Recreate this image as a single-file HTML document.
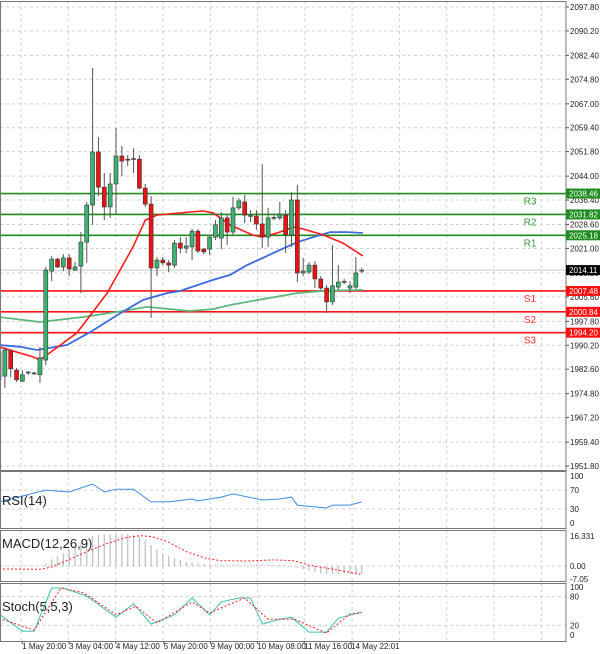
<!DOCTYPE html>
<html><head><meta charset="utf-8"><style>
html,body{margin:0;padding:0;background:#fff;}
svg{display:block;font-family:"Liberation Sans",sans-serif;}
</style></head><body>
<svg id="chart" width="600" height="654" viewBox="0 0 600 654" xmlns="http://www.w3.org/2000/svg">
<g id="grid"></g>
<g id="main"></g>
<g id="ind"></g>
<g id="axes"></g>
</svg>
<script>
const opens=[1979.2,1980.4,1988.4,1982.3,1978.8,1981.4,1981.1,1980.8,1985.5,2013.8,2017.6,2015.1,2018.0,2014.1,2015.4,2023.0,2034.8,2051.7,2040.5,2034.2,2041.5,2050.4,2049.4,2049.4,2049.4,2040.2,2035.1,2014.8,2017.3,2016.4,2015.7,2022.7,2021.1,2021.5,2026.5,2020.8,2020.8,2024.6,2024.3,2030.7,2026.2,2033.9,2035.8,2031.3,2031.3,2028.8,2024.6,2030.7,2030.7,2031.6,2025.3,2036.4,2013.2,2013.5,2015.7,2011.3,2008.4,2004.0,2008.7,2010.3,2008.4,2008.7,2013.8];
const closes=[1988.1,1988.7,1982.7,1979.2,1980.8,1981.7,1981.4,1986.2,2014.1,2017.6,2015.1,2018.0,2014.5,2015.1,2023.0,2034.8,2051.7,2040.5,2034.2,2041.5,2050.4,2048.8,2049.3,2049.6,2040.2,2035.1,2014.8,2017.3,2016.4,2015.7,2022.7,2021.1,2021.8,2026.5,2020.2,2019.9,2024.6,2028.5,2030.7,2026.2,2033.9,2036.1,2031.6,2031.5,2028.8,2024.6,2030.7,2030.9,2031.9,2025.3,2036.4,2013.2,2013.8,2015.7,2011.3,2008.4,2004.0,2009.1,2010.3,2010.5,2009.1,2013.2,2014.1];
const highs=[1990.3,1989.3,1988.7,1983.0,1982.3,1982.0,1981.7,1989.7,2015.1,2018.6,2018.0,2019.2,2019.2,2016.7,2026.2,2035.8,2078.4,2056.4,2045.0,2045.0,2059.3,2053.6,2050.7,2052.9,2050.7,2041.5,2037.7,2018.3,2018.3,2017.3,2023.7,2024.6,2024.6,2027.2,2027.2,2021.1,2025.3,2030.0,2032.6,2031.9,2037.4,2037.0,2038.0,2033.2,2033.2,2047.8,2033.9,2031.6,2035.8,2033.2,2038.9,2041.2,2018.0,2016.7,2017.0,2012.2,2009.4,2022.1,2015.7,2011.3,2010.6,2018.3,2014.8];
const lows=[1976.6,1976.6,1980.1,1978.5,1978.5,1980.8,1980.8,1978.2,1983.9,2010.6,2014.8,2013.8,2012.2,2013.8,2006.8,2016.4,2028.5,2037.7,2030.0,2030.7,2031.9,2044.0,2047.2,2045.0,2039.9,2034.2,1998.9,2012.2,2015.7,2013.5,2014.8,2019.5,2019.5,2017.3,2019.5,2019.2,2018.9,2023.7,2020.8,2022.1,2025.3,2033.2,2029.1,2029.4,2026.9,2021.1,2021.5,2030.0,2030.0,2019.5,2021.5,2010.3,2012.2,2012.9,2008.4,2007.8,2000.5,2003.0,2007.8,2009.7,2006.8,2008.1,2013.2];
const redMaIdx=[0,5.8,7,13.3,18.5,22.9,25,27,32.6,34.9,36.6,39.5,43.3,45,48,50.3,52,55.4,58.8,62.2];
const redMaVals=[1989.7,1986.5,1985.5,1994.1,2006.8,2021.5,2030.0,2031.6,2032.6,2032.9,2032.3,2028.5,2025.3,2024.6,2026.2,2027.8,2027.2,2025.3,2022.7,2018.6];
const blueMaIdx=[0,3.6,6.5,11.6,15.6,20.2,24.6,28.7,31,36.6,39.5,42.4,45.1,48,51,53.7,56.6,59.5,62.2];
const blueMaVals=[1990.3,1989.7,1988.7,1990.3,1994.4,1999.8,2004.6,2006.8,2007.5,2011.0,2012.6,2015.7,2018.0,2020.5,2023.0,2024.6,2026.2,2026.2,2025.9];
const greenMaIdx=[0,7,14.4,20.2,25.3,32.6,36.6,39.5,45.1,51,55.4,62.2];
const greenMaVals=[1999.2,1997.6,1999.2,2000.8,2002.4,2001.1,2001.7,2003.0,2004.9,2006.8,2007.5,2007.8];
const pivotNames=["R3","R2","R1","S1","S2","S3"];
const pivotVals=[2038.46,2031.82,2025.18,2007.48,2000.84,1994.20];
const lastPrice=2014.11;
const priceTicks=[2097.80,2090.20,2082.40,2074.80,2067.00,2059.40,2051.80,2044.00,2036.40,2028.60,2021.00,2013.20,2005.60,1997.80,1990.20,1982.60,1974.80,1967.20,1959.40,1951.80];
const timeLabels=["6:00","1 May 20:00","3 May 04:00","4 May 12:00","5 May 20:00","9 May 00:00","10 May 08:00","11 May 16:00","14 May 22:01"];
const timeIdx=[-3.8,3.8,11.8,19.8,28,36,44,52,60];
const rsiIdx=[0,8,12,16,18,20,23,26,29,33,34,38,40,45,48,50,51,56,57,60,62];
const rsiVals=[45,70,66,83,66,72,72,45,45,51,47,55,62,49,51,55,38,32,38,38,45];
const macdHist=[0.3,0.3,0.3,0.3,0.3,0.3,0.3,0.3,1.4,3.6,5.1,6.9,8.7,10.5,12.7,14.7,16.3,16.8,17.0,17.2,17.4,17.4,17.2,16.8,15.9,14.1,11.4,9.1,6.9,5.4,4.3,3.3,2.5,1.8,1.4,1.1,0.9,0.8,0.8,0.8,0.8,0.8,0.8,0.8,0.8,0.8,0.8,0.8,0.8,0.6,0.3,-1.0,-1.8,-2.5,-3.3,-4.0,-4.3,-4.3,-4.3,-4.2,-4.3,-4.3,-4.3];
const macdSigIdx=[0,7.2,9.2,11.8,15,18.3,21.6,24.2,26.2,28.8,32,35.3,37.9,42.5,47,50.4,53,56.2,59.5,61.8];
const macdSigVals=[-1.6,-1.8,-0.4,3.3,7.8,12,15.4,16.5,15.9,13.2,7.8,4.2,2.9,2.7,3.3,2.9,0.5,-1.3,-3.1,-4.5];
const stochIdx=[0,4,6,9,11,15,20,23,26,30,33,36,38,41,43,45,48,50,53,56,58,62];
const stochVals=[44,8,8,98,98,81,37,65,23,42,77,42,69,77,77,23,33,37,6,6,35,48];
const stochSigIdx=[0,6,10.6,14.5,20,23.4,27,33,36,42,46,50.5,56,60,62];
const stochSigVals=[35,10,98,88,42,60,25,69,46,77,33,33,4,44,46];

const NS="http://www.w3.org/2000/svg";
function mk(tag,attrs,parent){const e=document.createElementNS(NS,tag);for(const k in attrs)e.setAttribute(k,attrs[k]);parent.appendChild(e);return e;}
const xOf=i=>-1+i*5.85;
const yP=p=>7+(2097.8-p)*3.1438;
const yRsi=v=>523-v*0.47;
const yMacd=v=>566-v*1.84;
const ySt=v=>635-v*0.48;
const grid=document.getElementById('grid'),main=document.getElementById('main'),ind=document.getElementById('ind'),axes=document.getElementById('axes');
const PR=566;

// panel frames
const panels=[[0,1,470],[0,471,528],[0,530,581],[0,583,641]];
const pnames=['price-frame','rsi-frame','macd-frame','stoch-frame'];
panels.forEach((p,k)=>{const r=mk('rect',{x:0.5,y:p[1]+0.5,width:PR-0.5,height:p[2]-p[1],fill:'none',stroke:'#777','stroke-width':1},axes);
});
// vertical grid
for(let x=21;x<PR;x+=47.3){[[1,470],[471,528],[530,581],[583,641]].forEach(s=>{const l=mk('line',{x1:x,x2:x,y1:s[0],y2:s[1],stroke:'#d0d0d0','stroke-dasharray':'3,3'},grid);
});}
// price ticks
priceTicks.forEach(t=>{const y=yP(t);const l=mk('line',{x1:0,x2:PR,y1:y,y2:y,stroke:'#d0d0d0','stroke-dasharray':'3,3'},grid);

const tx=mk('text',{x:570,y:y+3,'font-size':8,fill:'#222'},axes);tx.textContent=t.toFixed(2);

const tk=mk('line',{x1:PR,x2:PR+3,y1:y,y2:y,stroke:'#555'},axes);});
// indicator grids & ticks
function hline(y,label){const l=mk('line',{x1:0,x2:PR,y1:y,y2:y,stroke:'#d0d0d0','stroke-dasharray':'3,3'},grid);

if(label!==null){const t=mk('text',{x:570,y:y+3,'font-size':8,fill:'#222'},axes);t.textContent=label;
}}
hline(yRsi(70),'70');hline(yRsi(30),'30');
[[100,'100'],[0,'0']].forEach(a=>{const t=mk('text',{x:570,y:yRsi(a[0])+3,'font-size':8,fill:'#222'},axes);t.textContent=a[1];});
hline(yMacd(0),'0.00');
[[16.331,'16.331'],[-7.05,'-7.05']].forEach(a=>{const t=mk('text',{x:570,y:yMacd(a[0])+3,'font-size':8,fill:'#222'},axes);t.textContent=a[1];});
hline(ySt(80),'80');hline(ySt(20),'20');
[[100,'100'],[0,'0']].forEach(a=>{const t=mk('text',{x:570,y:ySt(a[0])+3,'font-size':8,fill:'#222'},axes);t.textContent=a[1];});

// clip for main
const defs=mk('defs',{},document.getElementById('chart'));
const cp=mk('clipPath',{id:'cm'},defs);mk('rect',{x:1,y:1,width:PR-1,height:469},cp);
const cg=mk('g',{'clip-path':'url(#cm)'},main);

// pivot lines
pivotVals.forEach((v,k)=>{const y=yP(v);const res=k<3;const col=res?'#1e8c1e':'#ff1010';
const l=mk('line',{x1:0,x2:PR,y1:y,y2:y,stroke:col,'stroke-width':1.6},cg);

const t=mk('text',{x:530,y:y+11,'font-size':10,fill:res?'#3a9a3a':'#ff3030','text-anchor':'middle'},main);t.textContent=pivotNames[k];

const b=mk('rect',{x:PR,y:y-5,width:34,height:10,fill:res?'#1e8c1e':'#ff1010'},axes);

const bt=mk('text',{x:569,y:y+3,'font-size':8,fill:'#fff'},axes);bt.textContent=v.toFixed(2);
});
// last price line
{const y=yP(lastPrice);const l=mk('line',{x1:0,x2:PR,y1:y,y2:y,stroke:'#c8c8c8'},cg);

const b=mk('rect',{x:PR,y:y-5,width:34,height:10,fill:'#000'},axes);
const t=mk('text',{x:569,y:y+3,'font-size':8,fill:'#fff'},axes);t.textContent=lastPrice.toFixed(2);}

// MAs
function poly(idx,vals,yf,col,w,parent,name,dash){const pts=idx.map((i,k)=>xOf(i).toFixed(1)+','+yf(vals[k]).toFixed(1)).join(' ');
const a={points:pts,fill:'none',stroke:col,'stroke-width':w};if(dash)a['stroke-dasharray']=dash;const p=mk('polyline',a,parent);
return p;}
poly(greenMaIdx,greenMaVals,yP,'#5cb87a',1.8,cg,'ma-green-line');
poly(blueMaIdx,blueMaVals,yP,'#3b6be0',1.8,cg,'ma-blue-line');
poly(redMaIdx,redMaVals,yP,'#ff1a1a',1.6,cg,'ma-red-line');

// candles
opens.forEach((o,i)=>{const c=closes[i],x=xOf(i);
const w=mk('line',{x1:x,x2:x,y1:yP(highs[i]),y2:yP(lows[i]),stroke:'#555','stroke-width':1},cg);

const top=yP(Math.max(o,c)),bot=yP(Math.min(o,c));
const r=mk('rect',{x:x-2,y:top,width:4,height:Math.max(1,bot-top),fill:c>=o?'#3cb371':'#ee1111',stroke:'#333','stroke-width':0.6},cg);
});

// RSI
poly(rsiIdx,rsiVals,yRsi,'#3a8ee6',1,ind,'rsi-line');
{const t=mk('text',{x:2,y:505,'font-size':13,fill:'#222'},ind);t.textContent='RSI(14)';}
// MACD
macdHist.forEach((v,i)=>{const x=xOf(i);const l=mk('line',{x1:x,x2:x,y1:yMacd(0),y2:yMacd(v),stroke:'#bdbdbd','stroke-width':1.2},ind);
});
poly(macdSigIdx,macdSigVals,yMacd,'#ff2020',1,ind,'macd-signal-line','2,2');
{const t=mk('text',{x:2,y:548,'font-size':13,fill:'#222'},ind);t.textContent='MACD(12,26,9)';}
// Stoch
poly(stochIdx,stochVals,ySt,'#3cc0b0',1,ind,'stoch-main-line');
poly(stochSigIdx,stochSigVals,ySt,'#ff2020',1,ind,'stoch-signal-line','2,2');
{const t=mk('text',{x:2,y:611,'font-size':13,fill:'#222'},ind);t.textContent='Stoch(5,5,3)';}

// time labels
timeLabels.forEach((s,k)=>{const x=xOf(timeIdx[k])+1;const t=mk('text',{x:x,y:649,'font-size':8,fill:'#222'},axes);t.textContent=s;

const tk=mk('line',{x1:x,x2:x,y1:641,y2:644,stroke:'#555'},axes);});
</script>
</body></html>
